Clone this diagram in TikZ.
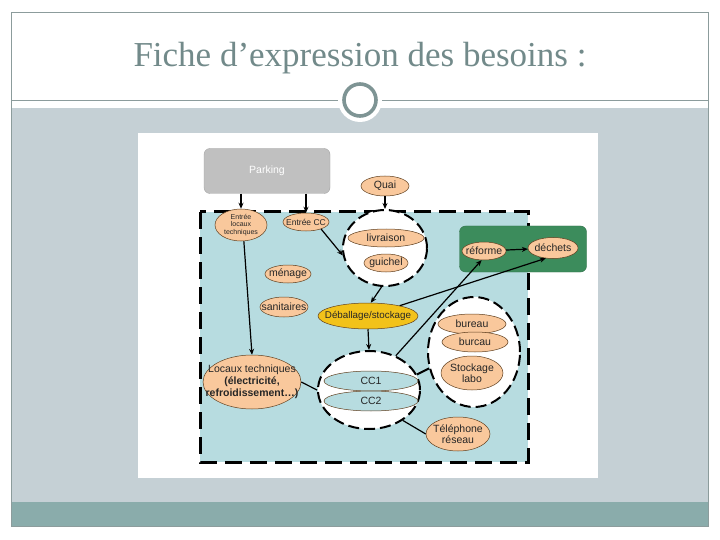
\documentclass[tikz,border=0pt]{standalone}
\usepackage{fontspec}
\setmainfont{Liberation Serif}
\setsansfont{Liberation Sans}
\usetikzlibrary{shapes.geometric,arrows.meta}
\definecolor{framegray}{HTML}{8C9C9C}
\definecolor{slate}{HTML}{C5D0D5}
\definecolor{tealbar}{HTML}{8AACAB}
\definecolor{titlegray}{HTML}{728A8A}
\definecolor{ringgray}{HTML}{7E9494}
\definecolor{cyanfill}{HTML}{B7DCE0}
\definecolor{peach}{HTML}{F9C89C}
\definecolor{gold}{HTML}{F2C21A}
\definecolor{boxgreen}{HTML}{3C8C5C}
\definecolor{parkgray}{HTML}{C0C0C0}
\definecolor{ccblue}{HTML}{B7DCE0}
\begin{document}
\begin{tikzpicture}[x=1pt,y=-1pt,
  lbl/.style={font=\sffamily\fontsize{10.5}{11.5}\selectfont, align=center, text=black!85, inner sep=0pt},
  peachnode/.style={ellipse, draw=brown!50!black, fill=peach, inner sep=0pt, line width=0.5pt},
  txt/.style={label={[lbl]center:{#1}}},
  container/.style={ellipse, draw=black, fill=white, dash pattern=on 11pt off 5pt, line width=2pt, inner sep=0pt},
  arr/.style={-{Stealth[length=6pt,width=5pt]}, line width=1.2pt},
  con/.style={line width=1.2pt}]
\useasboundingbox (0,0) rectangle (720,540);
\fill[white] (0,0) rectangle (720,540);
% slide background
\fill[slate] (11,108) rectangle (708,502);
\fill[tealbar] (11,502) rectangle (708,526);
\draw[framegray, line width=0.8pt] (11,12) rectangle (708,526);
\draw[framegray, line width=0.8pt] (11,100) -- (708,100);
\fill[white] (360,100) circle (22);
\draw[ringgray, line width=3.6pt] (360,100) circle (16);
\node[font=\fontsize{35}{38}\selectfont, text=titlegray] (title) at (360,58) {Fiche d’expression des besoins :};
% picture area
\fill[white] (138,133) rectangle (598,478);
\draw[fill=cyanfill, line width=3pt, dash pattern=on 17pt off 8pt] (200,212) rectangle (528,462);
% parking
\node[draw=gray!70, fill=parkgray, rounded corners=6pt, minimum width=126pt, minimum height=45pt,
  label={[lbl, text=white]center:Parking}] (park) at (267,171) {};
% green box
\node[draw=boxgreen!80!black, fill=boxgreen, rounded corners=6pt, minimum width=127pt, minimum height=46pt] (green) at (523,249) {};
% containers
\node[container, minimum width=84pt, minimum height=76pt] (livc) at (385,248) {};
\node[container, minimum width=92pt, minimum height=110pt] (burc) at (474,352) {};
\node[container, minimum width=102pt, minimum height=78pt] (ccc) at (369,390) {};
% nodes
\node[peachnode, minimum width=48pt, minimum height=20pt, txt=Quai] (quai) at (385,186) {};
\node[peachnode, minimum width=52pt, minimum height=32pt,
  label={[lbl, font=\sffamily\fontsize{7}{7.5}\selectfont]center:{Entrée\\locaux\\techniques}}] (entl) at (241,225) {};
\node[peachnode, minimum width=46pt, minimum height=18pt,
  label={[lbl, font=\sffamily\fontsize{8.5}{9}\selectfont]center:{Entrée CC}}] (entcc) at (306,222) {};
\node[peachnode, minimum width=76pt, minimum height=18pt, txt=livraison] (livr) at (386,238) {};
\node[peachnode, minimum width=44pt, minimum height=18pt, txt=guichel] (guich) at (386,263) {};
\node[peachnode, minimum width=44pt, minimum height=18pt, txt=réforme] (refo) at (484,251) {};
\node[peachnode, minimum width=50pt, minimum height=21pt, txt=déchets] (dech) at (553,248) {};
\node[peachnode, minimum width=46pt, minimum height=18pt, txt=ménage] (menage) at (288,274) {};
\node[peachnode, minimum width=48pt, minimum height=20pt, txt=sanitaires] (sanit) at (284,307) {};
\node[peachnode, fill=gold, minimum width=100pt, minimum height=26pt,
  label={[lbl, font=\sffamily\fontsize{9.8}{11}\selectfont]center:Déballage/stockage}] (deb) at (368,316) {};
\node[peachnode, minimum width=68pt, minimum height=20pt, txt=bureau] (bur1) at (472,324) {};
\node[peachnode, minimum width=66pt, minimum height=20pt, txt=burcau] (bur2) at (475,342) {};
\node[peachnode, minimum width=62pt, minimum height=34pt, txt={Stockage\\labo}] (stock) at (472,373) {};
\node[peachnode, fill=ccblue, minimum width=94pt, minimum height=20pt, txt=CC1] (cc1) at (371,381) {};
\node[peachnode, fill=ccblue, minimum width=94pt, minimum height=20pt, txt=CC2] (cc2) at (371,401) {};
\node[peachnode, minimum width=98pt, minimum height=54pt,
  label={[lbl, font=\sffamily\fontsize{10.5}{12}\selectfont]center:{Locaux techniques\\\textbf{(électricité,}\\\textbf{refroidissement…)}}}] (loc) at (252,382) {};
\node[peachnode, minimum width=64pt, minimum height=34pt, txt={Téléphone\\réseau}] (tel) at (458,434) {};
% connectors
\draw[arr] (entl.north |- park.south) -- (entl.north);
\draw[arr] (entcc.north |- park.south) -- (entcc.north);
\draw[arr] (quai.south) -- (livc.north);
\draw[arr] (entcc.-25) -- (livc.190);
\draw[arr] (livc.265) -- (deb.78);
\draw[arr] (refo) -- (dech);
\draw[arr] (deb.18) -- (dech.235);
\draw[arr] (ccc.52) -- (refo.255);
\draw[arr] (deb.south) -- (ccc.north);
\draw[arr] (entl.-80) -- (loc.north);
\draw[con] (loc.east) -- (ccc.west);
\draw[line width=2pt] (ccc.18) -- (burc.200);
\draw[con] (ccc.-42) -- (tel.west);
\end{tikzpicture}
\end{document}
